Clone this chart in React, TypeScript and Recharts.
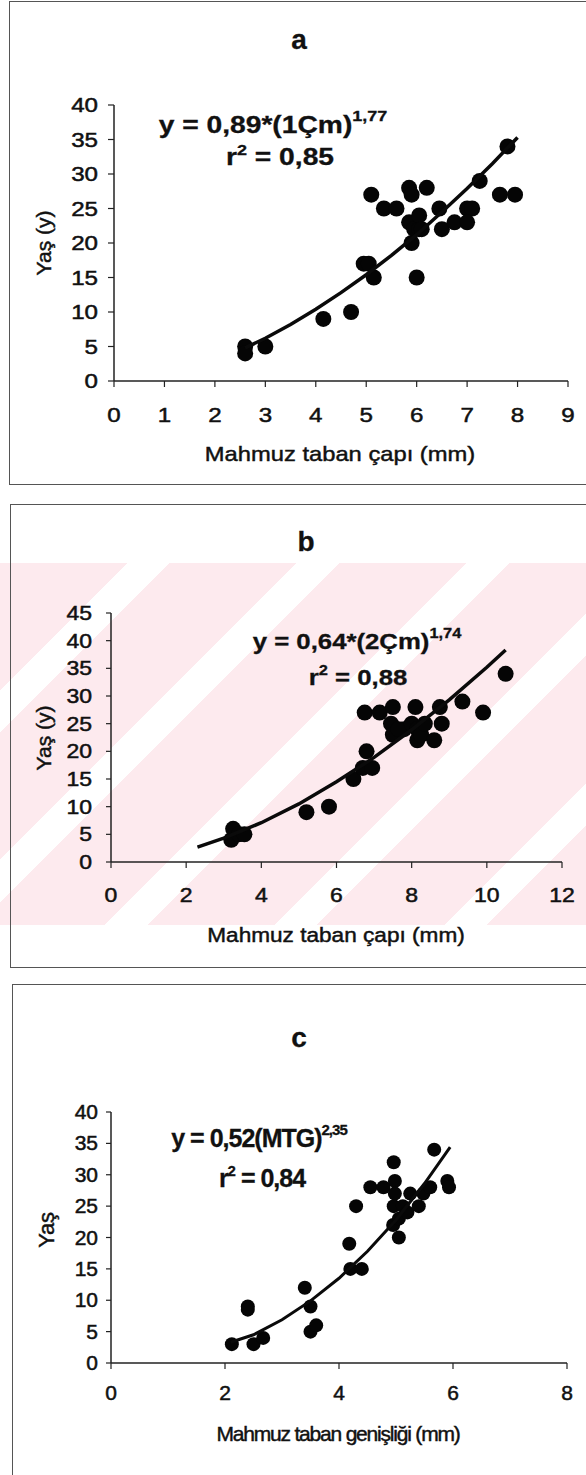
import React from "react";
import { ScatterChart, Scatter, XAxis, YAxis } from "recharts";

// --- data ---
const ticksXA = [0, 1, 2, 3, 4, 5, 6, 7, 8, 9];
const ticksYA = [0, 5, 10, 15, 20, 25, 30, 35, 40];
const pointsA = [
  { x: 2.6, y: 5 }, { x: 2.6, y: 4 }, { x: 3.0, y: 5 }, { x: 4.15, y: 9 },
  { x: 4.7, y: 10 }, { x: 4.95, y: 17 }, { x: 5.05, y: 17 }, { x: 5.15, y: 15 },
  { x: 5.1, y: 27 }, { x: 5.35, y: 25 }, { x: 5.6, y: 25 }, { x: 5.85, y: 28 },
  { x: 5.9, y: 27 }, { x: 5.85, y: 23 }, { x: 5.95, y: 22 }, { x: 6.05, y: 22 },
  { x: 5.9, y: 20 }, { x: 6.0, y: 15 }, { x: 6.05, y: 24 }, { x: 6.1, y: 22 },
  { x: 6.2, y: 28 }, { x: 6.45, y: 25 }, { x: 6.5, y: 22 }, { x: 6.75, y: 23 },
  { x: 7.0, y: 25 }, { x: 7.1, y: 25 }, { x: 7.0, y: 23 }, { x: 7.25, y: 29 },
  { x: 7.8, y: 34 }, { x: 7.65, y: 27 }, { x: 7.95, y: 27 },
];
const fitA = [
  { x: 2.6, y: 4.8 }, { x: 3, y: 6.2 }, { x: 3.5, y: 8.2 }, { x: 4, y: 10.4 },
  { x: 4.5, y: 12.8 }, { x: 5, y: 15.4 }, { x: 5.5, y: 18.2 }, { x: 6, y: 21.2 },
  { x: 6.5, y: 24.5 }, { x: 7, y: 27.9 }, { x: 7.5, y: 31.5 }, { x: 8, y: 35.3 },
];

const ticksXB = [0, 2, 4, 6, 8, 10, 12];
const ticksYB = [0, 5, 10, 15, 20, 25, 30, 35, 40, 45];
const pointsB = [
  { x: 3.2, y: 4 }, { x: 3.25, y: 6 }, { x: 3.4, y: 5 }, { x: 3.55, y: 5 },
  { x: 5.2, y: 9 }, { x: 5.8, y: 10 }, { x: 6.45, y: 15 }, { x: 6.7, y: 17 },
  { x: 6.95, y: 17 }, { x: 6.8, y: 20 }, { x: 6.75, y: 27 }, { x: 7.15, y: 27 },
  { x: 7.5, y: 28 }, { x: 7.45, y: 25 }, { x: 7.5, y: 23 }, { x: 7.8, y: 24 },
  { x: 7.65, y: 24 }, { x: 8.1, y: 28 }, { x: 8.0, y: 25 }, { x: 8.15, y: 24 },
  { x: 8.15, y: 22 }, { x: 8.25, y: 23 }, { x: 8.35, y: 25 }, { x: 8.6, y: 22 },
  { x: 8.75, y: 28 }, { x: 8.8, y: 25 }, { x: 9.35, y: 29 }, { x: 9.9, y: 27 },
  { x: 10.5, y: 34 },
];
const fitB = [
  { x: 2.3, y: 2.7 }, { x: 3, y: 4.3 }, { x: 4, y: 7.1 }, { x: 5, y: 10.5 },
  { x: 6, y: 14.5 }, { x: 7, y: 18.9 }, { x: 8, y: 23.9 }, { x: 9, y: 29.3 },
  { x: 10, y: 35.2 }, { x: 10.5, y: 38.3 },
];

const ticksXC = [0, 2, 4, 6, 8];
const ticksYC = [0, 5, 10, 15, 20, 25, 30, 35, 40];
const pointsC = [
  { x: 2.12, y: 3 }, { x: 2.4, y: 9 }, { x: 2.4, y: 8.5 }, { x: 2.5, y: 3 },
  { x: 2.67, y: 4 }, { x: 3.4, y: 12 }, { x: 3.5, y: 9 }, { x: 3.5, y: 5 },
  { x: 3.6, y: 6 }, { x: 4.18, y: 19 }, { x: 4.3, y: 25 }, { x: 4.2, y: 15 },
  { x: 4.4, y: 15 }, { x: 4.55, y: 28 }, { x: 4.78, y: 28 }, { x: 4.96, y: 32 },
  { x: 4.98, y: 29 }, { x: 4.98, y: 27 }, { x: 4.96, y: 25 }, { x: 4.95, y: 22 },
  { x: 5.05, y: 20 }, { x: 5.05, y: 23 }, { x: 5.12, y: 25 }, { x: 5.2, y: 24 },
  { x: 5.25, y: 27 }, { x: 5.4, y: 25 }, { x: 5.48, y: 27 }, { x: 5.6, y: 28 },
  { x: 5.67, y: 34 }, { x: 5.9, y: 29 }, { x: 5.93, y: 28 },
];
const fitC = [
  { x: 2.1, y: 3.3 }, { x: 2.5, y: 4.5 }, { x: 3, y: 6.9 }, { x: 3.5, y: 9.9 },
  { x: 4, y: 13.5 }, { x: 4.5, y: 17.8 }, { x: 5, y: 22.8 }, { x: 5.5, y: 28.6 },
  { x: 5.95, y: 34.4 },
];

const FONT = '"Liberation Sans", Arial, sans-serif';
const INK = "#111";

// scanned text looks heavier than plain regular, so a thin stroke is added
const makeTick = (fs: number, sx: number, axis: "x" | "y") => (props: any) => {
  const { x, y, payload } = props;
  return (
    <g transform={`translate(${x},${y}) scale(${sx},1)`}>
      <text
        x={0}
        y={0}
        dy={axis === "x" ? "0.71em" : "0.355em"}
        textAnchor={axis === "x" ? "middle" : "end"}
        fontSize={fs}
        fontFamily={FONT}
        fill={INK}
        stroke={INK}
        strokeWidth={0.5}
      >
        {payload.value}
      </text>
    </g>
  );
};

function Txt({ x, y, size, bold, sx = 1, rotate, spacing, children }: any) {
  return (
    <div
      style={{
        position: "absolute",
        left: x,
        top: y,
        transform: `translate(-50%,-50%)${rotate ? " rotate(-90deg)" : ""} scale(${sx},1)`,
        fontFamily: FONT,
        fontSize: size,
        fontWeight: bold ? 700 : 400,
        letterSpacing: spacing,
        lineHeight: 1,
        whiteSpace: "nowrap",
        color: INK,
        WebkitTextStroke: bold ? "0.3px #111" : "0.45px #111",
      }}
    >
      {children}
    </div>
  );
}

const Sup = ({ size, top, children }: any) => (
  <span style={{ fontSize: size, position: "relative", top }}>{children}</span>
);

const axisLine = { stroke: "#222", strokeWidth: 1.5 };
const tickLine = { stroke: "#222", strokeWidth: 1.2 };

function Panel(props: any) {
  const { top, height, margin, xDomain, yDomain, xTicks, yTicks, points, fit, r, lw, fs, sx, yTickSize, yMargin, xMargin } = props;
  return (
    <div style={{ position: "absolute", left: 0, top }}>
      <ScatterChart width={586} height={height} margin={margin}>
        <XAxis
          type="number"
          dataKey="x"
          domain={xDomain}
          ticks={xTicks}
          interval={0}
          height={40}
          tickSize={6}
          tickMargin={xMargin}
          axisLine={axisLine}
          tickLine={tickLine}
          tick={makeTick(fs, sx, "x")}
        />
        <YAxis
          type="number"
          dataKey="y"
          domain={yDomain}
          ticks={yTicks}
          interval={0}
          width={60}
          tickSize={yTickSize}
          tickMargin={yMargin}
          axisLine={axisLine}
          tickLine={tickLine}
          tick={makeTick(fs, sx, "y")}
        />
        <Scatter
          data={points}
          isAnimationActive={false}
          shape={(p: any) => <circle cx={p.cx} cy={p.cy} r={r} fill="#050505" />}
        />
        <Scatter
          data={fit}
          isAnimationActive={false}
          line={{ stroke: "#0a0a0a", strokeWidth: lw }}
          lineType="joint"
          shape={() => <g />}
        />
      </ScatterChart>
    </div>
  );
}

const Frame = ({ left, top, height }: any) => (
  <div
    style={{
      position: "absolute",
      left,
      top,
      width: 620,
      height,
      border: "1.5px solid #555",
      boxSizing: "border-box",
    }}
  />
);

export default function App() {
  return (
    <div
      style={{
        position: "absolute",
        left: 0,
        top: 0,
        width: 586,
        height: 1475,
        overflow: "hidden",
        background: "#fff",
      }}
    >
      {/* watermark band behind panel b */}
      <div
        style={{
          position: "absolute",
          left: 0,
          top: 563,
          width: 586,
          height: 362,
          background:
            "repeating-linear-gradient(135deg, #fdeaee 0px, #fdeaee 90px, #ffffff 90px, #ffffff 120px)",
        }}
      />

      <Frame left={9} top={1} height={484} />
      <Frame left={10} top={504} height={464} />
      <Frame left={12} top={984} height={520} />

      {/* panel a */}
      <Panel
        top={0}
        height={484}
        margin={{ top: 105, right: 18, bottom: 63, left: 54 }}
        xDomain={[0, 9]}
        yDomain={[0, 40]}
        xTicks={ticksXA}
        yTicks={ticksYA}
        points={pointsA}
        fit={fitA}
        r={8}
        lw={3.5}
        fs={21}
        sx={1.15}
        yTickSize={6}
        yMargin={10}
        xMargin={20}
      />
      <Txt x={299} y={40} size={28} bold>a</Txt>
      <Txt x={273} y={126} size={23.5} bold sx={1.2}>
        y = 0,89*(1Çm)<Sup size={15} top={-12}>1,77</Sup>
      </Txt>
      <Txt x={280} y={158} size={23.5} bold sx={1.2}>
        r<Sup size={15} top={-10}>2</Sup> = 0,85
      </Txt>
      <Txt x={340} y={453} size={21} sx={1.13}>Mahmuz taban çapı (mm)</Txt>
      <Txt x={43} y={243} size={21} rotate>Yaş (y)</Txt>

      {/* panel b */}
      <Panel
        top={504}
        height={463}
        margin={{ top: 109, right: 24, bottom: 65, left: 51 }}
        xDomain={[0, 12]}
        yDomain={[0, 45]}
        xTicks={ticksXB}
        yTicks={ticksYB}
        points={pointsB}
        fit={fitB}
        r={8}
        lw={3.5}
        fs={20}
        sx={1.15}
        yTickSize={5}
        yMargin={14}
        xMargin={20}
      />
      <Txt x={306} y={542} size={28} bold>b</Txt>
      <Txt x={357} y={642} size={22} bold sx={1.17}>
        y = 0,64*(2Çm)<Sup size={14} top={-11}>1,74</Sup>
      </Txt>
      <Txt x={358} y={678} size={22} bold sx={1.17}>
        r<Sup size={14} top={-10}>2</Sup> = 0,88
      </Txt>
      <Txt x={336} y={935} size={20} sx={1.13}>Mahmuz taban çapı (mm)</Txt>
      <Txt x={43} y={738} size={21} rotate>Yaş (y)</Txt>

      {/* panel c */}
      <Panel
        top={984}
        height={491}
        margin={{ top: 128, right: 19, bottom: 72, left: 51 }}
        xDomain={[0, 8]}
        yDomain={[0, 40]}
        xTicks={ticksXC}
        yTicks={ticksYC}
        points={pointsC}
        fit={fitC}
        r={7}
        lw={3}
        fs={20}
        sx={1.05}
        yTickSize={5}
        yMargin={8}
        xMargin={17}
      />
      <Txt x={299} y={1038} size={28} bold>c</Txt>
      <Txt x={259} y={1138} size={25} bold spacing={-1}>
        y = 0,52(MTG)<Sup size={15} top={-12}>2,35</Sup>
      </Txt>
      <Txt x={262} y={1178} size={25} bold spacing={-1}>
        r<Sup size={15} top={-11}>2</Sup> = 0,84
      </Txt>
      <Txt x={338} y={1433} size={21} spacing={-1.2}>Mahmuz taban genişliği (mm)</Txt>
      <Txt x={47} y={1230} size={22} rotate spacing={-0.3}>Yaş</Txt>
    </div>
  );
}
